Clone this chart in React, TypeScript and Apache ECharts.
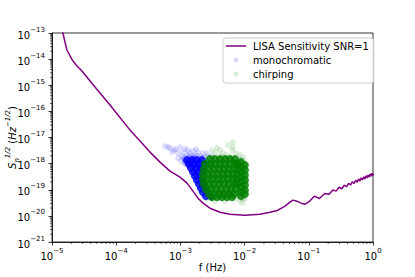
import React, { useEffect, useRef } from "react";
import * as echarts from "echarts";

// LISA sensitivity curve (frequency in Hz, amplitude spectral density in Hz^-1/2)
const lisaFreq = [
  1.43e-5, 1.48e-5, 1.59e-5, 1.71e-5, 1.91e-5, 2.12e-5, 2.45e-5, 2.93e-5, 3.91e-5, 8.0e-5,
  1.64e-4, 2.35e-4, 3.36e-4, 4.81e-4, 6.89e-4, 9.86e-4, 1.27e-3, 1.57e-3, 1.88e-3, 2.25e-3,
  2.89e-3, 4.14e-3, 5.92e-3, 1.01e-2, 1.74e-2, 2.49e-2, 3.31e-2, 4.26e-2, 5.09e-2, 5.67e-2,
  6.55e-2, 7.57e-2, 8.73e-2, 1.01e-1, 1.22e-1, 1.47e-1, 1.77e-1, 2.07e-1, 2.37e-1, 2.67e-1,
  2.97e-1, 3.27e-1, 3.57e-1, 3.87e-1, 4.17e-1, 4.47e-1, 4.77e-1, 5.07e-1, 5.37e-1, 5.67e-1,
  5.97e-1, 6.27e-1, 6.57e-1, 6.87e-1, 7.17e-1, 7.47e-1, 7.77e-1, 8.07e-1, 8.37e-1, 8.67e-1,
  8.97e-1, 9.27e-1, 9.57e-1, 9.87e-1, 1.02,
];
const lisaAsd = [
  1.49e-13, 1.0e-13, 4.52e-14, 2.23e-14, 1.32e-14, 8.45e-15, 5.44e-15, 3.5e-15, 1.45e-15, 1.74e-16,
  1.92e-17, 7.28e-18, 2.76e-18, 1.14e-18, 5.16e-19, 3.04e-19, 1.79e-19, 8.84e-20, 4.76e-20, 3.07e-20,
  1.97e-20, 1.38e-20, 1.16e-20, 1.06e-20, 1.16e-20, 1.38e-20, 1.65e-20, 2.35e-20, 3.35e-20, 4.0e-20,
  3.66e-20, 3.07e-20, 2.81e-20, 3.5e-20, 5.69e-20, 4.63e-20, 7.21e-20, 6.76e-20, 9.82e-20, 8.83e-20,
  1.245e-19, 1.09e-19, 1.51e-19, 1.3e-19, 1.77e-19, 1.51e-19, 2.04e-19, 1.73e-19, 2.31e-19, 1.95e-19,
  2.59e-19, 2.16e-19, 2.86e-19, 2.38e-19, 3.13e-19, 2.6e-19, 3.41e-19, 2.82e-19, 3.69e-19, 3.04e-19,
  3.96e-19, 3.26e-19, 4.25e-19, 3.48e-19, 4.1e-19,
];

// monochromatic sources: faint outliers and dense core  [f, S]
const monoSparse: [number, number][] = [
  [5.75e-4, 4.69e-18], [6.41e-4, 4.29e-18], [6.89e-4, 3.93e-18], [7.41e-4, 2.76e-18], [7.94e-4, 3.29e-18],
  [8.53e-4, 3.6e-18], [9.17e-4, 2.53e-18], [9.86e-4, 4.29e-18], [1.1e-3, 2.76e-18], [1.18e-3, 3.6e-18],
  [1.27e-3, 2.12e-18], [1.31e-3, 3.29e-18], [1.41e-3, 2.53e-18], [1.57e-3, 3.02e-18], [1.69e-3, 2.12e-18],
  [1.75e-3, 3.6e-18], [1.88e-3, 2.76e-18], [2.02e-3, 1.94e-18], [2.25e-3, 2.53e-18], [2.41e-3, 1.78e-18],
  [2.59e-3, 2.53e-18], [2.79e-3, 1.63e-18], [9.17e-4, 1.63e-18], [1.06e-3, 1.94e-18], [1.14e-3, 1.49e-18],
  [1.22e-3, 1.78e-18], [1.36e-3, 1.94e-18], [1.46e-3, 1.63e-18], [1.63e-3, 1.78e-18], [1.81e-3, 1.94e-18],
  [1.02e-3, 1.25e-18], [1.14e-3, 1.04e-18], [1.22e-3, 1.14e-18], [1.31e-3, 8.77e-19], [1.41e-3, 1.25e-18],
  [1.95e-3, 1.49e-18], [2.17e-3, 1.78e-18], [3.1e-3, 1.94e-18], [2.5e-3, 1.14e-18], [2.89e-3, 8.77e-19],
  [1.18e-3, 1.36e-18], [1.27e-3, 1.04e-18], [1.36e-3, 1.14e-18], [1.46e-3, 1.36e-18], [1.57e-3, 1.63e-18],
  [1.1e-3, 1.63e-18], [1.31e-3, 1.49e-18], [1.52e-3, 2.0e-18], [1.69e-3, 1.63e-18], [1.22e-3, 9.56e-19],
  [1.41e-3, 8.03e-19], [1.52e-3, 7.35e-19],
];
const monoCore: [number, number][] = [
  [1.27e-3, 1.36e-18], [1.52e-3, 1.36e-18], [1.81e-3, 1.36e-18], [2.17e-3, 1.36e-18],
  [1.36e-3, 9.56e-19], [1.63e-3, 9.56e-19], [1.95e-3, 9.56e-19], [2.33e-3, 9.56e-19],
  [1.46e-3, 6.73e-19], [1.75e-3, 6.73e-19], [2.09e-3, 6.73e-19],
  [1.57e-3, 4.73e-19], [1.88e-3, 4.73e-19], [2.25e-3, 4.73e-19],
  [1.69e-3, 3.32e-19], [2.02e-3, 3.32e-19],
  [1.81e-3, 2.33e-19], [2.17e-3, 2.33e-19],
  [1.95e-3, 1.64e-19], [2.33e-3, 1.64e-19],
  [2.09e-3, 1.15e-19], [2.5e-3, 1.15e-19],
  [2.25e-3, 8.1e-20], [2.69e-3, 8.1e-20],
  [2.5e-3, 5.69e-20], [2.99e-3, 5.69e-20],
];

// chirping sources: faint outliers and dense core  [f, S]
const chirpSparse: [number, number][] = [
  [3.71e-3, 3.93e-18], [4.14e-3, 3.29e-18], [5.51e-3, 5.12e-18], [6.59e-3, 6.67e-18], [6.36e-3, 3.29e-18],
  [6.59e-3, 4.29e-18], [8.47e-3, 2.12e-18], [9.43e-3, 1.78e-18], [3.46e-3, 2.53e-18], [4.61e-3, 2.53e-18],
  [3.1e-3, 3.29e-18], [5.13e-3, 2.12e-18], [2.69e-3, 1.94e-18], [7.34e-3, 2.53e-18], [7.88e-3, 1.63e-18],
  [9.78e-3, 1.36e-18], [1.09e-2, 5.64e-19], [1.09e-2, 1.96e-19], [9.78e-3, 4.36e-20], [8.47e-3, 4.0e-20],
  [2.59e-3, 4.36e-20], [3.46e-3, 3.66e-20], [4.95e-3, 3.66e-20], [7.08e-3, 4.36e-20], [2.02e-3, 1.5e-19],
  [2.09e-3, 8.1e-20], [2.41e-3, 1.36e-18], [5.92e-3, 1.94e-18], [3.99e-3, 1.94e-18], [3.22e-3, 1.63e-18],
  [8.78e-3, 1.36e-18], [1.01e-2, 4.76e-20], [9.1e-3, 3.07e-20], [4.44e-3, 1.78e-18], [5.31e-3, 1.63e-18],
  [6.13e-3, 1.49e-18], [2.79e-3, 1.25e-18], [7.61e-3, 1.25e-18], [1.05e-2, 1.0e-18], [1.05e-2, 3.0e-19],
  [9.78e-3, 8.0e-20], [2.33e-3, 4.0e-19], [2.17e-3, 2.5e-19],
];
const chirpCore: [number, number][] = [
  [2.89e-3, 1.49e-18], [3.46e-3, 1.49e-18], [4.14e-3, 1.49e-18], [4.95e-3, 1.49e-18], [5.92e-3, 1.49e-18], [7.08e-3, 1.49e-18],
  [2.41e-3, 9.56e-19], [2.89e-3, 9.56e-19], [3.46e-3, 9.56e-19], [4.14e-3, 9.56e-19], [4.95e-3, 9.56e-19], [5.92e-3, 9.56e-19], [7.08e-3, 9.56e-19], [7.88e-3, 9.56e-19],
  [2.33e-3, 6.16e-19], [2.79e-3, 6.16e-19], [3.33e-3, 6.16e-19], [3.99e-3, 6.16e-19], [4.77e-3, 6.16e-19], [5.71e-3, 6.16e-19], [6.83e-3, 6.16e-19], [7.88e-3, 6.16e-19],
  [2.25e-3, 3.96e-19], [2.69e-3, 3.96e-19], [3.22e-3, 3.96e-19], [3.85e-3, 3.96e-19], [4.61e-3, 3.96e-19], [5.51e-3, 3.96e-19], [6.59e-3, 3.96e-19], [7.61e-3, 3.96e-19],
  [2.25e-3, 2.55e-19], [2.69e-3, 2.55e-19], [3.22e-3, 2.55e-19], [3.85e-3, 2.55e-19], [4.61e-3, 2.55e-19], [5.51e-3, 2.55e-19], [6.59e-3, 2.55e-19], [7.61e-3, 2.55e-19],
  [2.33e-3, 1.64e-19], [2.79e-3, 1.64e-19], [3.33e-3, 1.64e-19], [3.99e-3, 1.64e-19], [4.77e-3, 1.64e-19], [5.71e-3, 1.64e-19], [6.83e-3, 1.64e-19], [7.61e-3, 1.64e-19],
  [2.5e-3, 1.05e-19], [2.99e-3, 1.05e-19], [3.58e-3, 1.05e-19], [4.29e-3, 1.05e-19], [5.13e-3, 1.05e-19], [6.13e-3, 1.05e-19], [7.34e-3, 1.05e-19],
  [2.79e-3, 6.78e-20], [3.33e-3, 6.78e-20], [3.99e-3, 6.78e-20], [4.77e-3, 6.78e-20], [5.71e-3, 6.78e-20], [6.83e-3, 6.78e-20],
  [3.1e-3, 5.21e-20], [3.71e-3, 5.21e-20], [4.44e-3, 5.21e-20], [5.31e-3, 5.21e-20], [6.36e-3, 5.21e-20],
  [8.78e-3, 1.14e-18], [8.78e-3, 7.35e-19], [8.78e-3, 4.73e-19], [8.78e-3, 3.04e-19], [8.78e-3, 1.96e-19], [8.78e-3, 1.26e-19], [8.78e-3, 8.1e-20], [8.78e-3, 5.69e-20],
  [1.01e-2, 8.77e-19], [1.01e-2, 5.64e-19], [1.01e-2, 3.63e-19], [1.01e-2, 2.33e-19], [1.01e-2, 1.5e-19], [1.01e-2, 9.66e-20], [1.01e-2, 6.78e-20],
];

// axis range and decoration
const X_MIN = 1e-5;
const X_MAX = 1;
const Y_MIN = 1e-21;
const Y_MAX = 1e-13;
const xDecades = [-5, -4, -3, -2, -1];
const yDecades = [-21, -20, -19, -18, -17, -16, -15, -14];
const minorMantissas = [2, 3, 4, 5, 6, 7, 8, 9];

// ECharts' log scale loses precision for values this small, so the y axis is
// expressed in units of Y_UNIT (labels show the true powers of ten).
const Y_UNIT = 1e-21;
const Y_UNIT_EXP = -21;

const FONT = "DejaVu Sans";

export default function App() {
  const ref = useRef<HTMLDivElement>(null);
  useEffect(() => {
    const chart = echarts.init(ref.current!, null, { renderer: "svg" });
    const toY = (s: number) => s / Y_UNIT;
    const pts = (arr: [number, number][]) => arr.map(([f, s]) => [f, toY(s)]);
    const powLabel = (offset: number) => (v: number) => {
      const e = Math.round(Math.log10(v)) + offset;
      return `{b|10}{e|${e < 0 ? "\u2212" : ""}${Math.abs(e)}}`;
    };
    const tickRich = {
      b: { fontSize: 10, fontFamily: FONT, color: "#000", lineHeight: 14, verticalAlign: "bottom" },
      e: { fontSize: 7, fontFamily: FONT, color: "#000", lineHeight: 8, verticalAlign: "top" },
    };
    const xMinor: number[][] = [];
    xDecades.forEach((k) => minorMantissas.forEach((m) => xMinor.push([m * Math.pow(10, k), toY(Y_MIN)])));
    const yMinor: number[][] = [];
    yDecades.forEach((k) => minorMantissas.forEach((m) => yMinor.push([X_MIN, m * Math.pow(10, k - Y_UNIT_EXP)])));

    const option: any = {
      animation: false,
      backgroundColor: "#fff",
      grid: {
        left: 52, top: 33, width: 321, height: 209,
        containLabel: false, outerBoundsMode: "none",
        show: true, borderColor: "#000", borderWidth: 0.8,
      },
      legend: {
        data: [
          { name: "LISA Sensitivity SNR=1", icon: "path://M0,0 L20,0 L20,1.5 L0,1.5 Z", itemStyle: { color: "#800080" } },
          { name: "monochromatic", icon: "circle", itemStyle: { color: "#0000ff", opacity: 0.15 } },
          { name: "chirping", icon: "circle", itemStyle: { color: "#008000", opacity: 0.15 } },
        ],
        orient: "vertical",
        left: 223,
        top: 38,
        itemWidth: 20,
        itemHeight: 5,
        itemGap: 2,
        padding: [2, 5, 3, 3],
        backgroundColor: "rgba(255,255,255,0.8)",
        borderColor: "#cccccc",
        borderWidth: 1,
        borderRadius: 3,
        selectedMode: false,
        textStyle: { fontSize: 10, fontFamily: FONT, color: "#000", lineHeight: 12, padding: [0, 0, 0, 2] },
      },
      xAxis: {
        type: "log",
        logBase: 10,
        min: X_MIN,
        max: X_MAX,
        name: "f (Hz)",
        nameLocation: "middle",
        nameGap: 20,
        nameMoveOverlap: false,
        nameTextStyle: { fontSize: 10, fontFamily: FONT, color: "#000" },
        axisLine: { show: true, lineStyle: { color: "#000", width: 0.8 } },
        axisTick: { show: true, length: 3.5, lineStyle: { color: "#000", width: 0.8 } },
        axisLabel: { margin: 5, formatter: powLabel(0), rich: tickRich },
        splitLine: { show: false },
      },
      yAxis: {
        type: "log",
        logBase: 10,
        min: toY(Y_MIN),
        max: toY(Y_MAX),
        name: "{s|S}{sub|n}{sup|1/2} {p|(}{s|Hz}{sup|\u22121/2}{p|)}",
        nameLocation: "middle",
        nameRotate: 90,
        nameGap: 32,
        nameMoveOverlap: false,
        nameTextStyle: {
          fontSize: 10,
          fontFamily: FONT,
          color: "#000",
          rich: {
            s: { fontSize: 10, fontFamily: FONT, fontStyle: "italic", color: "#000", lineHeight: 16, verticalAlign: "middle" },
            p: { fontSize: 10, fontFamily: FONT, color: "#000", lineHeight: 16, verticalAlign: "middle" },
            sub: { fontSize: 7, fontFamily: FONT, fontStyle: "italic", color: "#000", lineHeight: 7, verticalAlign: "bottom" },
            sup: { fontSize: 7, fontFamily: FONT, fontStyle: "italic", color: "#000", lineHeight: 7, verticalAlign: "top" },
          },
        },
        axisLine: { show: true, lineStyle: { color: "#000", width: 0.8 } },
        axisTick: { show: true, length: 3.5, lineStyle: { color: "#000", width: 0.8 } },
        axisLabel: { margin: 7, formatter: powLabel(Y_UNIT_EXP), rich: tickRich },
        splitLine: { show: false },
      },
      series: [
        {
          name: "LISA Sensitivity SNR=1",
          type: "line",
          data: lisaFreq.map((f, i) => [f, toY(lisaAsd[i])]),
          symbol: "none",
          showSymbol: false,
          lineStyle: { color: "#800080", width: 1.5 },
          itemStyle: { color: "#800080" },
          silent: true,
        },
        {
          name: "monochromatic",
          type: "scatter",
          data: pts(monoSparse),
          symbolSize: 6,
          itemStyle: { color: "#0000ff", opacity: 0.13 },
          silent: true,
        },
        {
          name: "monochromatic",
          type: "scatter",
          data: pts(monoCore),
          symbolSize: 8,
          itemStyle: { color: "#0000ff", opacity: 0.85 },
          silent: true,
        },
        {
          name: "chirping",
          type: "scatter",
          data: pts(chirpSparse),
          symbolSize: 6,
          itemStyle: { color: "#008000", opacity: 0.13 },
          silent: true,
        },
        {
          name: "chirping",
          type: "scatter",
          data: pts(chirpCore),
          symbolSize: 8,
          itemStyle: { color: "#008000", opacity: 0.85 },
          silent: true,
        },
        {
          type: "custom",
          silent: true,
          clip: false,
          data: xMinor,
          renderItem: (_p: any, api: any) => {
            const pt = api.coord([api.value(0), api.value(1)]);
            return { type: "line", shape: { x1: pt[0], y1: pt[1], x2: pt[0], y2: pt[1] + 2 }, style: { stroke: "#000", lineWidth: 0.6 } };
          },
        },
        {
          type: "custom",
          silent: true,
          clip: false,
          data: yMinor,
          renderItem: (_p: any, api: any) => {
            const pt = api.coord([api.value(0), api.value(1)]);
            return { type: "line", shape: { x1: pt[0] - 2, y1: pt[1], x2: pt[0], y2: pt[1] }, style: { stroke: "#000", lineWidth: 0.6 } };
          },
        },
      ],
    };
    chart.setOption(option);
    return () => chart.dispose();
  }, []);
  return <div ref={ref} style={{ position: "absolute", left: 0, top: 0, width: 415, height: 277 }} />;
}
